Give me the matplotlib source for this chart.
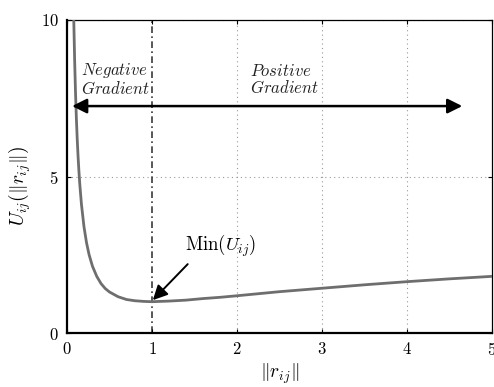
import numpy as np
import matplotlib
matplotlib.use('Agg')
from matplotlib import pyplot as plt

plt.rcParams['font.family'] = 'serif'
plt.rcParams['font.serif'] = ['cmr10', 'DejaVu Serif']
plt.rcParams['mathtext.fontset'] = 'cm'
plt.rcParams['axes.formatter.use_mathtext'] = True

# curve
r = [0.07, 0.08, 0.09, 0.10, 0.11, 0.12, 0.13, 0.14, 0.15, 0.17, 0.20, 0.23,
     0.26, 0.30, 0.35, 0.40, 0.45, 0.50, 0.60, 0.70, 0.80, 0.90, 1.0, 1.2,
     1.4, 1.6, 1.8, 2.0, 2.5, 3.0, 3.5, 4.0, 4.5, 5.0]
U = [11.63, 9.97, 8.70, 7.70, 6.88, 6.21, 5.65, 5.18, 4.77, 4.11, 3.39, 2.88,
     2.50, 2.13, 1.81, 1.58, 1.42, 1.31, 1.16, 1.07, 1.03, 1.01, 1.00, 1.02,
     1.05, 1.10, 1.14, 1.19, 1.32, 1.43, 1.54, 1.64, 1.73, 1.81]
xticks = [0, 1, 2, 3, 4, 5]
yticks = [0, 5, 10]
r_min = 1.0
U_min = 1.0
arrow_y = 7.25

fig = plt.figure(figsize=(4.94, 3.87), dpi=100)
ax = fig.add_axes([67/494, 54/387, 425/494, 313/387])

# grid
for xv in [2, 3, 4]:
    ax.axvline(xv, color='#999999', ls=(0, (1, 3)), lw=0.8, zorder=0)
for yv in [5, 10]:
    ax.axhline(yv, color='#999999', ls=(0, (1, 3)), lw=0.8, zorder=0)
ax.axvline(r_min, color='#3a3a3a', ls=(0, (4, 2, 1, 2)), lw=1.2, zorder=1)

ax.plot(r, U, color='#6e6e6e', lw=2, zorder=3)

ax.set_xlim(0, 5)
ax.set_ylim(0, 10)
ax.set_xticks(xticks)
ax.set_yticks(yticks)
ax.tick_params(direction='in', length=3, top=True, right=True, labelsize=12, pad=6)
for s in ['left', 'bottom']:
    ax.spines[s].set_linewidth(1.6)
for s in ['top', 'right']:
    ax.spines[s].set_linewidth(0.9)

ax.set_xlabel(r'$\Vert r_{ij}\Vert$', fontsize=14, labelpad=2)
ax.set_ylabel(r'$U_{ij}(\Vert r_{ij}\Vert)$', fontsize=14)
ax.yaxis.set_label_coords(-0.08, 0.47)

# gradient arrows
ap = dict(arrowstyle='-|>', mutation_scale=22, lw=1.8, color='k', shrinkA=0, shrinkB=0)
ax.annotate('', xy=(0.06, arrow_y), xytext=(r_min, arrow_y), arrowprops=ap, zorder=4)
ax.annotate('', xy=(4.65, arrow_y), xytext=(r_min, arrow_y), arrowprops=ap, zorder=4)
ax.text(0.16, 8.1, '$Negative$\n$Gradient$', fontsize=12, ha='left', va='center',
        linespacing=1.0, color='#222222')
ax.text(2.15, 8.1, '$Positive$\n$Gradient$', fontsize=12, ha='left', va='center',
        linespacing=1.0, color='#222222')

# minimum
ax.annotate('', xy=(r_min + 0.01, U_min + 0.05), xytext=(1.42, 2.2),
            arrowprops=dict(arrowstyle='-|>', mutation_scale=22, lw=1.4, color='k',
                            shrinkA=0, shrinkB=0), zorder=4)
ax.text(1.39, 2.8, r'Min$(U_{ij})$', fontsize=13.5, ha='left', va='center')

plt.savefig('out.png', dpi=100)
